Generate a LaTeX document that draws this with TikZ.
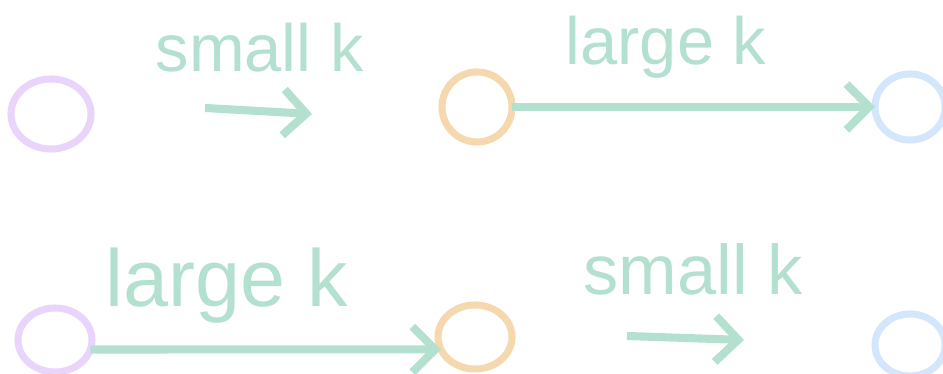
\documentclass[tikz,border=0pt]{standalone}
\usepackage{fontspec}
\setmainfont{Liberation Sans}
\usetikzlibrary{arrows.meta,shapes.geometric}
\definecolor{hgreen}{HTML}{B3E0CF}
\definecolor{hpurple}{HTML}{E9D4FB}
\definecolor{horange}{HTML}{F5D8AE}
\definecolor{hblue}{HTML}{D4E6FB}
\tikzset{
  ring/.style={ellipse, draw, line width=2pt, inner sep=0pt, outer sep=0pt},
  pring/.style={ring, draw=hpurple},
  oring/.style={ring, draw=horange},
  bring/.style={ring, draw=hblue},
  hand/.style={text=hgreen, inner sep=0pt, anchor=base west},
  harrow/.style={draw=hgreen, line width=2.3pt, -{Straight Barb[length=6.5pt,width=13pt,line width=2.3pt]}},
}
\begin{document}
\begin{tikzpicture}[x=0.01cm,y=-0.01cm]
\useasboundingbox (0,0) rectangle (943,374);
% top row
\node[pring, minimum width=8.0mm, minimum height=7.0mm] (p1) at (51,114) {};
\node[oring, minimum width=7.0mm, minimum height=7.0mm] (o1) at (477,107) {};
\node[bring, minimum width=7.0mm, minimum height=6.6mm] (b1) at (910,107) {};
% bottom row
\node[pring, minimum width=7.4mm, minimum height=6.4mm] (p2) at (55,340) {};
\node[oring, minimum width=7.4mm, minimum height=6.4mm] (o2) at (475,337) {};
\node[bring, minimum width=7.0mm, minimum height=6.2mm] (b2) at (910,345) {};
% labels
\node[hand, font=\fontsize{19}{19}\selectfont] (t1) at (155,72) {small k};
\node[hand, font=\fontsize{19}{19}\selectfont] (t2) at (565,65) {large k};
\node[hand, font=\fontsize{23}{23}\selectfont] (t3) at (105,307) {large k};
\node[hand, font=\fontsize{20}{20}\selectfont] (t4) at (583,295) {small k};
% arrows
\coordinate (s1a) at (205,108);
\coordinate (s1b) at (312,114);
\coordinate (s2a) at (627,336);
\coordinate (s2b) at (744,340);
\draw[harrow] (s1a) -- (s1b);
\draw[harrow] (o1.east) -- (b1.west);
\draw[harrow] (p2.-15) -- (o2.200);
\draw[harrow] (s2a) -- (s2b);
\end{tikzpicture}
\end{document}
